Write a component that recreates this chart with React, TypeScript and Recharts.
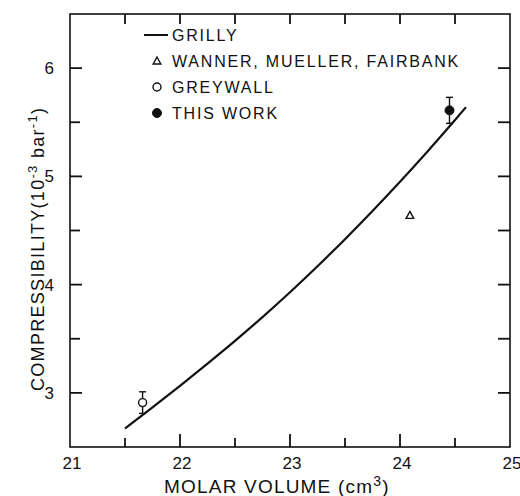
import { ComposedChart, Line, XAxis, YAxis } from 'recharts';

// Grilly curve, molar volume (cm3) vs compressibility (1e-3 / bar)
const grillyVolume = [21.5, 21.75, 22, 22.25, 22.5, 22.75, 23, 23.25, 23.5, 23.75, 24, 24.25, 24.5, 24.6];
const grillyComp = [2.67, 2.865, 3.065, 3.27, 3.48, 3.7, 3.93, 4.17, 4.42, 4.68, 4.95, 5.23, 5.52, 5.64];

const wannerVolume = [24.09];
const wannerComp = [4.64];

const greywallVolume = [21.66];
const greywallComp = [2.91];
const greywallErr = [0.1];

const thisWorkVolume = [24.45];
const thisWorkComp = [5.61];
const thisWorkErr = [0.12];

const xTicks = [21, 21.5, 22, 22.5, 23, 23.5, 24, 24.5, 25];
const yTicks = [2.5, 3, 3.5, 4, 4.5, 5, 5.5, 6, 6.5];

const legendItems = [
  { name: 'GRILLY', kind: 'line' },
  { name: 'WANNER, MUELLER, FAIRBANK', kind: 'triangle' },
  { name: 'GREYWALL', kind: 'open' },
  { name: 'THIS WORK', kind: 'filled' },
];

const grillyData = grillyVolume.map((v, i) => ({ v, c: grillyComp[i] }));
const wannerData = wannerVolume.map((v, i) => ({ v, c: wannerComp[i] }));
const greywallData = greywallVolume.map((v, i) => ({ v, c: greywallComp[i] }));
const thisWorkData = thisWorkVolume.map((v, i) => ({ v, c: thisWorkComp[i] }));
// vertical error segments: low end then high end
const greywallBar = [
  { v: greywallVolume[0], c: greywallComp[0] - greywallErr[0] },
  { v: greywallVolume[0], c: greywallComp[0] + greywallErr[0] },
];
const thisWorkBar = [
  { v: thisWorkVolume[0], c: thisWorkComp[0] - thisWorkErr[0] },
  { v: thisWorkVolume[0], c: thisWorkComp[0] + thisWorkErr[0] },
];

const X_MIN = 21;
const X_MAX = 25;
const Y_MIN = 2.5;
const Y_MAX = 6.5;

// chart box
const W = 520;
const H = 496;
const MARGIN = { top: 14, right: 10, bottom: 9, left: 20 };
const X_AXIS_H = 40;
const Y_AXIS_W = 50;
const PLOT_L = MARGIN.left + Y_AXIS_W;
const PLOT_R = W - MARGIN.right;
const PLOT_T = MARGIN.top;
const PLOT_B = H - MARGIN.bottom - X_AXIS_H;

const INK = '#111';
const FONT = '"Liberation Sans", Arial, sans-serif';

const isMajor = (v: number) => Math.abs(v - Math.round(v)) < 1e-6;
const inner = (v: number, lo: number, hi: number) => v > lo && v < hi;

function BottomLabel({ x, y, payload }: any) {
  if (!isMajor(payload.value)) return <g />;
  return (
    <text x={x + 2} y={y + 22} textAnchor="middle" fontSize={17} fill={INK} fontFamily={FONT}>
      {payload.value}
    </text>
  );
}

function LeftLabel({ x, y, payload }: any) {
  const v = payload.value;
  if (!isMajor(v) || !inner(v, Y_MIN, Y_MAX)) return <g />;
  return (
    <text x={x - 16} y={y + 6} textAnchor="end" fontSize={17} fill={INK} fontFamily={FONT}>
      {v}
    </text>
  );
}

function Triangle({ cx, cy }: any) {
  return (
    <path
      d={`M${cx},${cy - 4} L${cx + 3.8},${cy + 3} L${cx - 3.8},${cy + 3} Z`}
      fill="#fff"
      stroke={INK}
      strokeWidth={1.4}
    />
  );
}

function OpenDot({ cx, cy }: any) {
  return <circle cx={cx} cy={cy} r={4} fill="#fff" stroke={INK} strokeWidth={1.4} />;
}

function FilledDot({ cx, cy }: any) {
  return <circle cx={cx} cy={cy} r={4.5} fill={INK} stroke={INK} strokeWidth={1} />;
}

function Cap({ cx, cy }: any) {
  return <path d={`M${cx - 3.5},${cy}L${cx + 3.5},${cy}`} stroke={INK} strokeWidth={1.4} fill="none" />;
}

// frame with inward ticks, legend and axis titles, laid over the chart box
function Overlay() {
  const px = (v: number) => PLOT_L + ((v - X_MIN) / (X_MAX - X_MIN)) * (PLOT_R - PLOT_L);
  const py = (v: number) => PLOT_B - ((v - Y_MIN) / (Y_MAX - Y_MIN)) * (PLOT_B - PLOT_T);
  const xs = xTicks.filter((t) => inner(t, X_MIN, X_MAX));
  const ys = yTicks.filter((t) => inner(t, Y_MIN, Y_MAX));
  return (
    <svg
      width={W}
      height={H}
      style={{ position: 'absolute', left: 0, top: 0, pointerEvents: 'none', overflow: 'visible' }}
    >
      <rect
        x={PLOT_L}
        y={PLOT_T}
        width={PLOT_R - PLOT_L}
        height={PLOT_B - PLOT_T}
        fill="none"
        stroke={INK}
        strokeWidth={1.6}
      />
      {xs.map((t) => (
        <g key={`x${t}`}>
          <path d={`M${px(t)},${PLOT_B}L${px(t)},${PLOT_B - (isMajor(t) ? 13 : 9)}`} stroke={INK} strokeWidth={1.8} />
          <path d={`M${px(t)},${PLOT_T}L${px(t)},${PLOT_T + 10}`} stroke={INK} strokeWidth={1.8} />
        </g>
      ))}
      {ys.map((t) => (
        <g key={`y${t}`}>
          <path d={`M${PLOT_L},${py(t)}L${PLOT_L + (isMajor(t) ? 12 : 10)},${py(t)}`} stroke={INK} strokeWidth={1.8} />
          <path d={`M${PLOT_R},${py(t)}L${PLOT_R - 12},${py(t)}`} stroke={INK} strokeWidth={1.8} />
        </g>
      ))}
      <g transform="translate(144,24)">
        {legendItems.map((item, i) => {
          const y = 11 + i * 26;
          const mx = 13;
          let marker;
          if (item.kind === 'line') {
            marker = <path d={`M0,${y}L24,${y}`} stroke={INK} strokeWidth={2} />;
          } else if (item.kind === 'triangle') {
            marker = <Triangle cx={mx} cy={y} />;
          } else if (item.kind === 'open') {
            marker = <OpenDot cx={mx} cy={y} />;
          } else {
            marker = <FilledDot cx={mx} cy={y} />;
          }
          return (
            <g key={item.name}>
              {marker}
              <text x={28} y={y + 6} fontSize={16} fill={INK} fontFamily={FONT} letterSpacing={1.8}>
                {item.name}
              </text>
            </g>
          );
        })}
      </g>
      <text x={164} y={493} fontSize={19} fill={INK} fontFamily={FONT} letterSpacing={1.2}>
        MOLAR VOLUME (cm<tspan dy={-7} fontSize={14}>3</tspan>
        <tspan dy={7}>)</tspan>
      </text>
      <text
        x={44}
        y={391}
        transform="rotate(-90 44 391)"
        fontSize={18}
        fill={INK}
        fontFamily={FONT}
        letterSpacing={1.3}
      >
        COMPRESSIBILITY(10<tspan dy={-7} fontSize={13}>-3</tspan>
        <tspan dy={7}> bar</tspan>
        <tspan dy={-7} fontSize={13}>-1</tspan>
        <tspan dy={7}>)</tspan>
      </text>
    </svg>
  );
}

export default function App() {
  return (
    <div style={{ position: 'absolute', left: 0, top: 0, width: W, height: H, background: '#fff' }}>
      <ComposedChart width={W} height={H} margin={MARGIN}>
        <XAxis
          xAxisId="bottom"
          type="number"
          dataKey="v"
          domain={[X_MIN, X_MAX]}
          ticks={xTicks}
          interval={0}
          height={X_AXIS_H}
          tickSize={0}
          tickMargin={0}
          tickLine={false}
          axisLine={false}
          tick={<BottomLabel />}
        />
        <YAxis
          yAxisId="left"
          type="number"
          domain={[Y_MIN, Y_MAX]}
          ticks={yTicks}
          interval={0}
          width={Y_AXIS_W}
          tickSize={0}
          tickMargin={0}
          tickLine={false}
          axisLine={false}
          tick={<LeftLabel />}
        />
        <Line
          xAxisId="bottom"
          yAxisId="left"
          data={grillyData}
          dataKey="c"
          type="monotone"
          stroke={INK}
          strokeWidth={2.2}
          dot={false}
          isAnimationActive={false}
        />
        <Line
          xAxisId="bottom"
          yAxisId="left"
          data={greywallBar}
          dataKey="c"
          type="linear"
          stroke={INK}
          strokeWidth={1.4}
          dot={<Cap />}
          isAnimationActive={false}
        />
        <Line
          xAxisId="bottom"
          yAxisId="left"
          data={thisWorkBar}
          dataKey="c"
          type="linear"
          stroke={INK}
          strokeWidth={1.4}
          dot={<Cap />}
          isAnimationActive={false}
        />
        <Line
          xAxisId="bottom"
          yAxisId="left"
          data={wannerData}
          dataKey="c"
          stroke="none"
          dot={<Triangle />}
          isAnimationActive={false}
        />
        <Line
          xAxisId="bottom"
          yAxisId="left"
          data={greywallData}
          dataKey="c"
          stroke="none"
          dot={<OpenDot />}
          isAnimationActive={false}
        />
        <Line
          xAxisId="bottom"
          yAxisId="left"
          data={thisWorkData}
          dataKey="c"
          stroke="none"
          dot={<FilledDot />}
          isAnimationActive={false}
        />
      </ComposedChart>
      <Overlay />
    </div>
  );
}
